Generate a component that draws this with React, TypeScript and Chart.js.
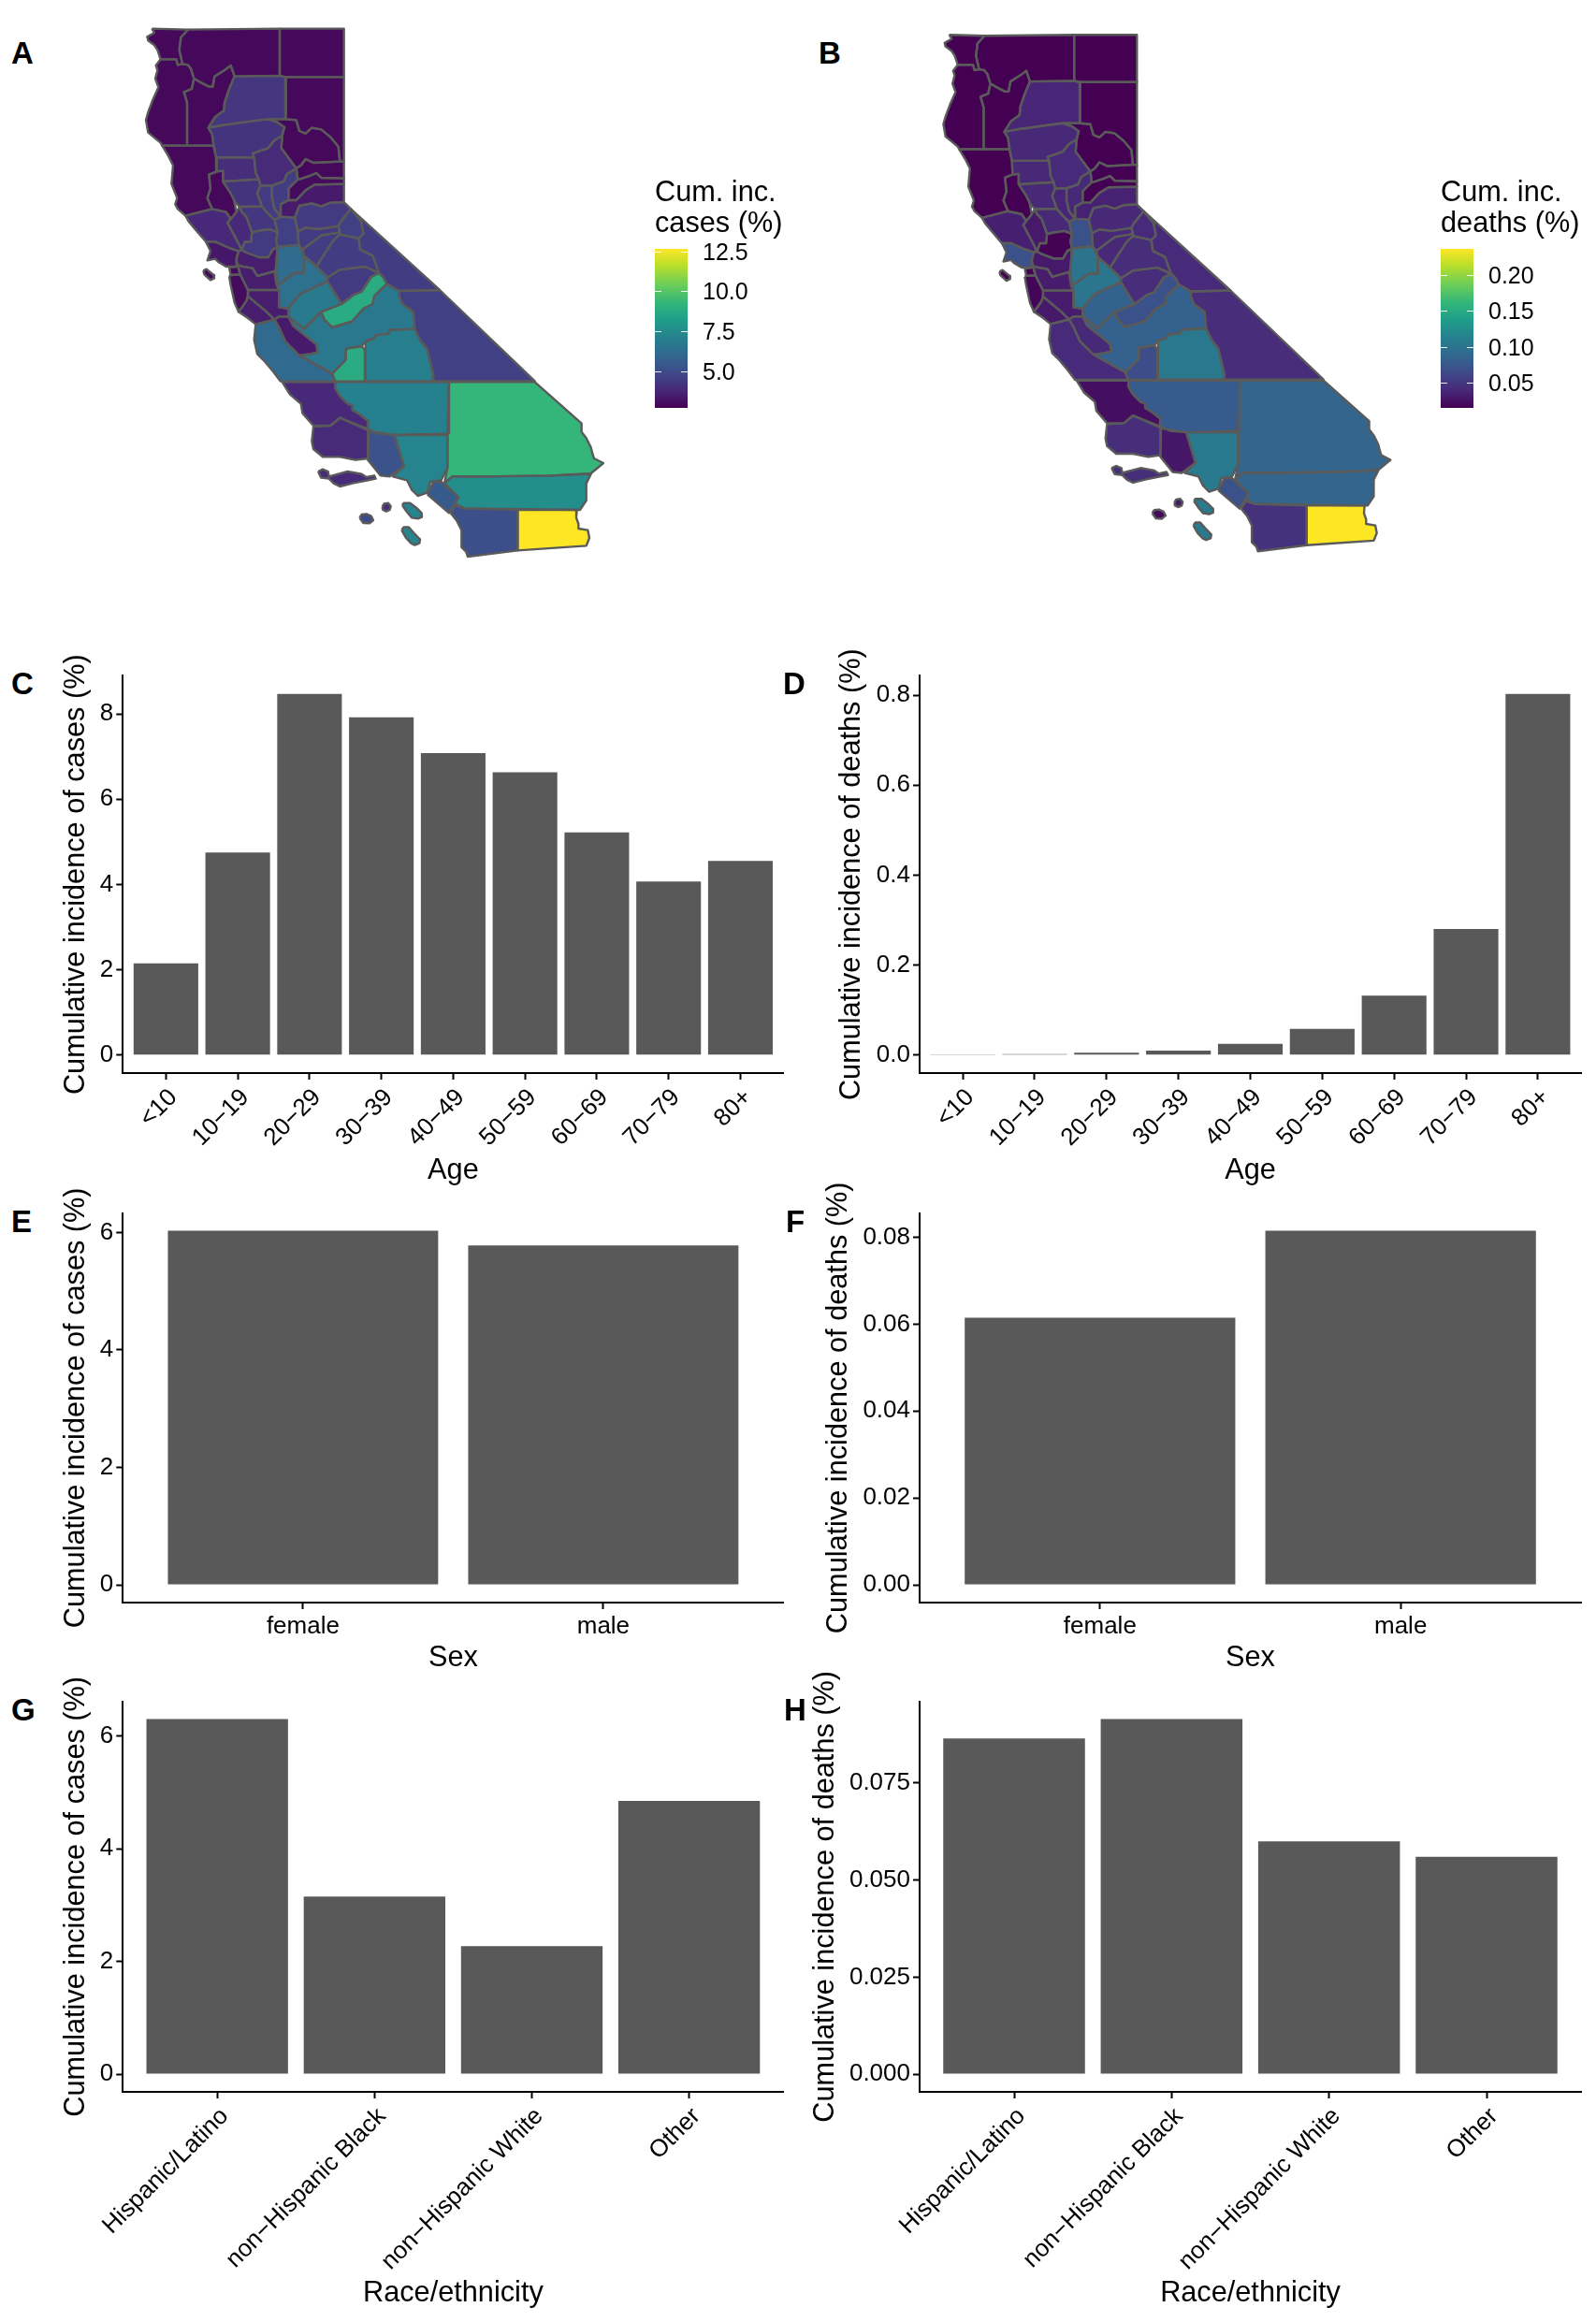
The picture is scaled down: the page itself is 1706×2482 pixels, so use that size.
import React, { useEffect, useRef } from "react";
import { Chart, registerables } from "chart.js";

Chart.register(...registerables);

const FONT = '"Liberation Sans", Arial, Helvetica, sans-serif';

// ---- Bar data -------------------------------------------------------------
const ageLabels = ["<10", "10−19", "20−29", "30−39", "40−49", "50−59", "60−69", "70−79", "80+"];
const sexLabels = ["female", "male"];
const raceLabels = ["Hispanic/Latino", "non−Hispanic Black", "non−Hispanic White", "Other"];

const casesByAge = [2.15, 4.75, 8.47, 7.92, 7.08, 6.63, 5.22, 4.07, 4.55];
const deathsByAge = [0.0005, 0.002, 0.005, 0.01, 0.025, 0.058, 0.132, 0.28, 0.803];
const casesBySex = [6.03, 5.78];
const deathsBySex = [0.0615, 0.0815];
const casesByRace = [6.3, 3.15, 2.27, 4.85];
const deathsByRace = [0.0865, 0.0915, 0.06, 0.056];

const ticksCasesAge = [0, 2, 4, 6, 8];
const ticksDeathsAge = [0, 0.2, 0.4, 0.6, 0.8];
const ticksCasesSex = [0, 2, 4, 6];
const ticksDeathsSex = [0, 0.02, 0.04, 0.06, 0.08];
const ticksCasesRace = [0, 2, 4, 6];
const ticksDeathsRace = [0, 0.025, 0.05, 0.075];

const legendTicksCases = [5, 7.5, 10, 12.5];
const legendTicksDeaths = [0.05, 0.1, 0.15, 0.2];
const legendRangeCases = [2.7, 12.66];
const legendRangeDeaths = [0.015, 0.2366];

// ---- Map data: county outlines in map units --------------------------------
const delNorte = [97,62,213,65,190,90,185,130,195,175,180,178,175,160,125,160,115,130,105,115,85,100,82,88,105,75];
const siskiyou = [213,65,507,62,507,213,362,215,350,180,330,195,298,215,292,248,280,248,255,235,232,222,222,190,212,178,195,175,185,130,190,90];
const modoc = [507,62,713,62,713,217,525,217,507,213];
const humboldt = [125,160,175,160,180,178,195,175,212,178,222,190,232,222,225,255,200,265,210,300,210,437,130,437,125,428,85,395,78,355,85,330,100,290,118,250,108,222,115,195,110,180];
const trinity = [232,222,255,235,280,248,292,248,298,215,330,195,350,180,362,215,345,255,330,300,328,325,300,345,278,380,290,400,295,437,210,437,210,300,200,265,225,255];
const shasta = [362,215,507,213,525,217,527,352,470,352,420,358,350,368,320,372,278,380,300,345,328,325,330,300,345,255];
const lassen = [525,217,713,217,713,488,700,488,695,440,670,410,640,385,610,380,590,398,570,390,560,355,527,352];
const tehama = [278,380,320,372,350,368,420,358,470,352,500,362,522,378,515,405,490,420,470,445,420,462,425,475,303,475,295,437,290,400];
const plumas = [527,352,560,355,570,390,590,398,610,380,640,385,670,410,695,440,700,488,615,492,590,480,575,500,560,510,512,445,515,405,522,378,500,362,470,352];
const mendocino = [130,437,295,437,303,475,305,520,280,530,285,575,275,605,290,640,205,662,180,640,172,625,178,605,160,560,165,500,150,470];
const glenn = [303,475,425,475,430,525,440,545,325,552,325,518,305,520];
const butte = [425,475,420,462,470,445,490,420,515,405,512,445,560,510,530,528,520,552,482,565,445,565,440,545,430,525];
const lake = [305,520,325,518,325,552,350,590,360,610,368,650,350,672,335,650,290,640,275,605,285,575,280,530];
const colusa = [325,552,440,545,445,565,435,590,450,632,378,633,365,620,350,590];
const sutter = [445,565,482,565,482,605,490,640,510,665,490,675,470,655,450,632,435,590];
const yuba = [482,565,520,552,530,528,560,510,565,545,535,575,535,612,510,625,510,665,490,640,482,605];
const sierra = [560,510,575,500,590,480,615,492,700,488,713,488,713,542,640,540,625,525,600,535,570,545,565,545];
const nevada = [565,545,570,545,600,535,625,525,640,540,713,542,713,560,620,562,590,580,560,612,535,612,535,575];
const placer = [535,612,560,612,590,580,620,562,713,560,713,618,670,620,640,632,610,622,570,630,555,668,510,665,510,625];
const elDorado = [555,668,570,630,610,622,640,632,670,620,713,618,735,640,703,680,695,695,630,705,590,700,565,712];
const sacramento = [490,675,510,665,555,668,565,712,568,755,500,762,495,740,500,715];
const yolo = [378,633,450,632,470,655,490,675,500,715,475,705,440,710,418,715,400,665,385,650];
const napa = [368,650,378,633,385,650,400,665,418,715,415,745,395,745,385,772,372,745,340,685,350,672];
const sonoma = [205,662,290,640,335,650,350,672,340,685,372,745,385,772,375,775,345,765,300,745,270,745,240,710,215,680];
const marin = [270,745,300,745,345,765,375,775,368,800,368,825,335,825,310,810,300,800,275,805,285,775];
const solano = [418,715,440,710,475,705,500,715,495,740,500,762,485,770,470,795,440,795,400,780,385,772,395,745,415,745];
const contraCosta = [368,800,375,775,385,772,400,780,440,795,470,795,485,770,500,762,495,830,490,840,435,855,420,830,390,825,372,820];
const alameda = [372,820,390,825,420,830,435,855,490,840,497,885,505,900,405,900,395,880,380,850];
const sanFrancisco = [345,828,368,825,372,820,380,850,350,852];
const sanMateo = [345,855,350,852,380,850,395,880,405,900,405,920,400,935,390,950,375,970,362,940,350,885];
const santaClara = [405,900,505,900,505,955,535,960,535,985,505,985,490,995,465,970,405,920];
const santaCruz = [390,950,400,935,405,920,465,970,490,995,430,1010,405,990,375,970];
const sanBenito = [490,995,505,985,535,985,550,1015,625,1075,628,1100,605,1105,570,1110,525,1065,505,1020];
const monterey = [430,1010,490,995,505,1020,525,1065,570,1110,675,1168,685,1193,510,1193,485,1160,460,1130,435,1105,425,1060];
const sanJoaquin = [500,762,568,755,585,790,585,845,555,845,500,885,495,830];
const stanislaus = [500,885,555,845,585,845,585,790,625,825,660,860,660,872,575,912,545,945,535,960,505,955,505,900];
const merced = [535,960,545,945,575,912,660,872,705,945,640,970,585,1025,535,985];
const fresno = [535,985,585,1025,640,970,650,995,675,1020,740,1000,775,960,805,945,810,920,850,880,890,903,890,920,900,945,935,970,940,1025,860,1028,855,1040,815,1045,810,1055,782,1065,770,1080,720,1088,718,1125,675,1168,570,1110,605,1105,628,1100,625,1075,550,1015];
const madera = [640,970,705,945,745,915,770,905,800,858,825,845,840,860,850,880,810,920,805,945,775,960,740,1000,675,1020,650,995];
const mariposa = [660,872,660,860,700,835,740,830,780,825,825,845,800,858,770,905,745,915,705,945];
const tuolumne = [625,825,650,785,680,740,700,722,730,728,760,735,765,770,805,790,825,845,780,825,740,830,700,835,660,860];
const calaveras = [580,770,620,740,640,725,700,715,700,722,680,740,650,785,625,825,585,790];
const amador = [565,712,590,700,630,705,695,695,700,715,640,725,620,740,580,770,568,755];
const alpine = [703,680,735,640,768,680,775,720,760,735,730,728,700,722,700,715,695,695];
const mono = [735,640,1020,900,890,903,850,880,840,860,825,845,805,790,765,770,760,735,775,720,768,680];
const inyo = [890,903,1020,900,1325,1192,1000,1192,1000,1175,980,1090,960,1065,940,1025,935,970,900,945,890,920];
const tulare = [782,1065,810,1055,815,1045,855,1040,860,1028,940,1025,960,1065,980,1090,1000,1175,995,1192,780,1192,782,1095];
const kings = [720,1088,770,1080,782,1095,780,1192,685,1193,675,1168,718,1125];
const sanLuisObispo = [515,1195,685,1195,685,1215,700,1240,725,1265,740,1270,740,1285,765,1300,790,1320,788,1345,700,1310,670,1335,615,1335,580,1295,575,1265,540,1235];
const kern = [685,1195,1050,1195,1050,1360,880,1365,820,1360,790,1345,790,1320,765,1300,740,1285,740,1270,725,1265,700,1240,685,1215];
const sanBernardino = [1050,1195,1325,1195,1475,1328,1475,1355,1490,1375,1505,1405,1510,1425,1515,1440,1545,1455,1505,1488,1375,1495,1150,1498,1060,1498,1035,1520,1045,1470,1045,1360];
const santaBarbara = [615,1338,670,1335,700,1310,790,1350,790,1440,750,1445,700,1435,645,1435,615,1410,610,1385];
const ventura = [792,1352,875,1365,905,1465,860,1498,830,1495,790,1445];
const losAngeles = [875,1365,1045,1365,1045,1470,1025,1510,990,1515,980,1550,950,1560,930,1540,915,1510,870,1498,905,1465];
const orange = [980,1555,1000,1515,1025,1515,1080,1565,1065,1590,1050,1615];
const riverside = [1035,1520,1060,1498,1150,1498,1375,1495,1505,1490,1490,1520,1490,1575,1470,1605,1100,1600,1070,1585,1080,1565];
const sanDiego = [1055,1615,1070,1590,1100,1600,1270,1605,1270,1735,1110,1755,1105,1740,1090,1725,1090,1670,1075,1640];
const imperial = [1270,1605,1460,1605,1458,1630,1465,1650,1465,1665,1495,1670,1500,1695,1490,1720,1270,1735];
const channelIslands = [630,1482,645,1475,662,1482,665,1498,725,1482,770,1490,785,1500,810,1495,815,1505,790,1510,740,1520,700,1530,680,1520,665,1505,640,1502];
const catalina = [900,1590,905,1583,925,1583,945,1598,962,1615,963,1628,950,1633,930,1630,915,1612];
const sanClemente = [898,1670,905,1660,920,1660,938,1680,957,1700,955,1712,940,1718,928,1712,912,1695];
const sanNicolas = [763,1630,770,1620,785,1618,800,1625,807,1638,795,1648,775,1647];
const sbIsland = [836,1595,842,1585,855,1583,863,1593,860,1605,848,1610,838,1605];
const farallon = [262,838,272,833,295,852,297,862,285,868,265,850];

const countyShapes = [delNorte, siskiyou, modoc, humboldt, trinity, shasta, lassen, tehama, plumas, mendocino, glenn, butte, lake, colusa, sutter, yuba, sierra, nevada, placer, elDorado, sacramento, yolo, napa, sonoma, marin, solano, contraCosta, alameda, sanFrancisco, sanMateo, santaClara, santaCruz, sanBenito, monterey, sanJoaquin, stanislaus, merced, fresno, madera, mariposa, tuolumne, calaveras, amador, alpine, mono, inyo, tulare, kings, sanLuisObispo, kern, sanBernardino, santaBarbara, ventura, losAngeles, orange, riverside, sanDiego, imperial, channelIslands, catalina, sanClemente, sanNicolas, sbIsland, farallon];

const countyCases = [2.9, 2.9, 2.9, 2.9, 2.9, 4.25, 2.9, 4.2, 2.9, 2.9, 4.0, 3.9, 2.9, 4.2, 4.4, 4.5, 2.9, 3.0, 3.4, 4.4, 4.6, 4.3, 3.8, 3.8, 3.3, 4.4, 3.5, 3.5, 2.9, 3.0, 3.5, 3.5, 3.4, 6.1, 6.2, 6.4, 6.8, 6.7, 8.8, 4.4, 4.5, 4.5, 4.4, 4.6, 4.5, 4.6, 7.0, 8.8, 3.8, 7.1, 9.3, 3.9, 5.2, 7.2, 5.5, 7.6, 5.1, 12.66, 3.9, 7.2, 7.2, 5.0, 4.0, 2.9];
const countyDeaths = [0.015, 0.015, 0.015, 0.015, 0.015, 0.038, 0.015, 0.04, 0.015, 0.015, 0.04, 0.042, 0.015, 0.04, 0.038, 0.04, 0.015, 0.015, 0.036, 0.04, 0.07, 0.04, 0.03, 0.034, 0.07, 0.016, 0.03, 0.032, 0.015, 0.018, 0.032, 0.03, 0.04, 0.042, 0.1, 0.102, 0.085, 0.083, 0.07, 0.043, 0.044, 0.04, 0.04, 0.042, 0.042, 0.043, 0.104, 0.067, 0.024, 0.078, 0.086, 0.044, 0.028, 0.106, 0.07, 0.086, 0.046, 0.2366, 0.044, 0.106, 0.106, 0.02, 0.03, 0.015];

const viridisStops = ["#440154", "#482878", "#3e4a89", "#31688e", "#26828e", "#1f9e89", "#35b779", "#6ece58", "#b5de2b", "#fde725"];

function hexRgb(h: string) {
  return [1, 3, 5].map((i) => parseInt(h.slice(i, i + 2), 16));
}
function viridis(t: number) {
  const c = Math.max(0, Math.min(1, t)) * (viridisStops.length - 1);
  const i = Math.min(viridisStops.length - 2, Math.floor(c));
  const a = hexRgb(viridisStops[i]);
  const b = hexRgb(viridisStops[i + 1]);
  const f = c - i;
  const m = a.map((v, k) => Math.round(v + (b[k] - v) * f));
  return `rgb(${m[0]},${m[1]},${m[2]})`;
}

// ---- Components -----------------------------------------------------------
function useChart(build: (c: HTMLCanvasElement) => Chart) {
  const ref = useRef<HTMLCanvasElement | null>(null);
  useEffect(() => {
    const chart = build(ref.current as HTMLCanvasElement);
    return () => chart.destroy();
  }, []);
  return ref;
}

const absCanvas = (left: number, top: number): React.CSSProperties => ({ position: "absolute", left, top, display: "block" });

function shapePoints(s: number[]) {
  const pts: { x: number; y: number }[] = [];
  for (let k = 0; k < s.length; k += 2) pts.push({ x: s[k], y: s[k + 1] });
  pts.push({ x: s[0], y: s[1] });
  return pts;
}

function MapPanel({ left, top, width, height, values, range }: any) {
  const ref = useChart((c) => {
    // Chart.js paints the first dataset last, so outlines come first and sit on top of every fill.
    const outlines = countyShapes.map((s) => ({
      data: shapePoints(s),
      showLine: true,
      fill: false,
      tension: 0,
      pointRadius: 0,
      borderWidth: 2.4,
      borderColor: "#5a5a5a",
      borderJoinStyle: "round",
    }));
    const fills = countyShapes.map((s, i) => ({
      data: shapePoints(s),
      showLine: true,
      fill: "shape",
      tension: 0,
      pointRadius: 0,
      borderWidth: 0,
      backgroundColor: viridis((values[i] - range[0]) / (range[1] - range[0])),
    }));
    return new Chart(c, {
      type: "scatter",
      data: { datasets: [...outlines, ...fills] } as any,
      options: {
        animation: false,
        responsive: false,
        events: [],
        layout: { padding: 0 },
        plugins: { legend: { display: false }, tooltip: { enabled: false } },
        scales: {
          x: { type: "linear", display: false, min: 0, max: 1590 },
          y: { type: "linear", display: false, min: 0, max: 1800, reverse: true },
        },
      },
    });
  });
  return <canvas ref={ref} width={width} height={height} style={absCanvas(left, top)} />;
}

function LegendPanel({ left, title, ticks, range, digits }: any) {
  const top = 190;
  const width = 180;
  const height = 246;
  const ref = useChart((c) =>
    new Chart(c, {
      type: "bar",
      data: {
        labels: [""],
        datasets: [
          {
            data: [range],
            barPercentage: 1,
            categoryPercentage: 1,
            backgroundColor: (ctx: any) => {
              const area = ctx.chart.chartArea;
              if (!area) return "#000";
              const g = ctx.chart.ctx.createLinearGradient(0, area.bottom, 0, area.top);
              viridisStops.forEach((s, i) => g.addColorStop(i / (viridisStops.length - 1), s));
              return g;
            },
          },
        ],
      } as any,
      options: {
        animation: false,
        responsive: false,
        events: [],
        layout: { padding: 0 },
        plugins: {
          legend: { display: false },
          tooltip: { enabled: false },
          title: {
            display: true,
            text: title,
            align: "start",
            color: "#000",
            font: { family: FONT, size: 30.7, weight: "normal", lineHeight: 1.075 },
            padding: { top: 0, bottom: 10 },
          },
        },
        scales: {
          x: { display: false, grid: { display: false } },
          y: {
            position: "right",
            min: range[0],
            max: range[1],
            grid: { display: false },
            border: { display: false },
            afterBuildTicks: (s: any) => {
              s.ticks = ticks.map((value: number) => ({ value }));
            },
            afterFit: (s: any) => {
              s.width = width - 35;
              s.paddingTop = 0;
              s.paddingBottom = 0;
            },
            ticks: {
              color: "#000",
              padding: 8,
              labelOffset: 2,
              font: { family: FONT, size: 25 },
              callback: (v: any) => Number(v).toFixed(digits),
            },
          },
        },
      },
      plugins: [
        {
          id: "legendTickMarks",
          afterDatasetsDraw(chart: any) {
            const { ctx, chartArea, scales } = chart;
            ctx.save();
            ctx.strokeStyle = "rgba(255,255,255,0.9)";
            ctx.lineWidth = 1;
            ticks.forEach((t: number) => {
              const y = Math.round(scales.y.getPixelForValue(t)) + 0.5;
              ctx.beginPath();
              ctx.moveTo(chartArea.left, y);
              ctx.lineTo(chartArea.left + 7, y);
              ctx.moveTo(chartArea.right - 7, y);
              ctx.lineTo(chartArea.right, y);
              ctx.stroke();
            });
            ctx.restore();
          },
        },
      ],
    } as any)
  );
  return <canvas ref={ref} width={width} height={height} style={absCanvas(left, top)} />;
}

function BarPanel({ labels, values, yTicks, digits, xTitle, yTitle, titleX, axisX, right, plotTop, axisY, bottom, rotate, tickPad }: any) {
  const lh = 36;
  const left = Math.round(titleX - lh / 2);
  const top = Math.floor(plotTop) - 40;
  const width = Math.ceil(right - left) + 4;
  const height = bottom - top;
  const maxV = Math.max(...values);
  const ref = useChart((c) =>
    new Chart(c, {
      type: "bar",
      data: {
        datasets: [
          {
            data: values.map((y: number, x: number) => ({ x, y })),
            backgroundColor: "#595959",
            barPercentage: 0.9,
            categoryPercentage: 1,
          },
        ],
      } as any,
      options: {
        animation: false,
        responsive: false,
        events: [],
        layout: { padding: { top: plotTop - top, right: width - (right - left), left: 0, bottom: 0 } },
        plugins: { legend: { display: false }, tooltip: { enabled: false } },
        scales: {
          x: {
            type: "linear",
            min: -0.6,
            max: labels.length - 0.4,
            offset: false,
            grid: { offset: false, drawOnChartArea: false, drawTicks: true, tickLength: 7, tickWidth: 2, tickColor: "#000" },
            border: { display: true, color: "#000", width: 2 },
            afterBuildTicks: (s: any) => {
              s.ticks = labels.map((_: string, value: number) => ({ value }));
            },
            afterFit: (s: any) => {
              s.height = bottom - axisY;
              s.paddingLeft = 0;
              s.paddingRight = 0;
            },
            ticks: {
              autoSkip: false,
              color: "#000",
              padding: tickPad,
              labelOffset: rotate ? 8 : 0,
              minRotation: rotate,
              maxRotation: rotate,
              font: { family: FONT, size: 26 },
              callback: (v: any) => labels[v],
            },
            title: {
              display: true,
              text: xTitle,
              color: "#000",
              padding: 0,
              font: { family: FONT, size: 30.7, lineHeight: lh / 30.7 },
            },
          },
          y: {
            type: "linear",
            min: -maxV * 0.05,
            max: maxV * 1.05,
            grid: { drawOnChartArea: false, drawTicks: true, tickLength: 7, tickWidth: 2, tickColor: "#000" },
            border: { display: true, color: "#000", width: 2 },
            afterBuildTicks: (s: any) => {
              s.ticks = yTicks.map((value: number) => ({ value }));
            },
            afterFit: (s: any) => {
              s.width = axisX - left;
              s.paddingTop = 0;
              s.paddingBottom = 0;
            },
            ticks: {
              color: "#000",
              padding: 3,
              font: { family: FONT, size: 26 },
              callback: (v: any) => Number(v).toFixed(digits),
            },
            title: {
              display: true,
              text: yTitle,
              color: "#000",
              padding: 0,
              font: { family: FONT, size: 30.7, lineHeight: lh / 30.7 },
            },
          },
        },
      },
    } as any)
  );
  return <canvas ref={ref} width={width} height={height} style={absCanvas(left, top)} />;
}

const panelLetters: [string, number, number][] = [
  ["A", 12, 57], ["B", 875, 57], ["C", 12, 731], ["D", 837, 731],
  ["E", 12, 1306], ["F", 840, 1306], ["G", 12, 1828], ["H", 838, 1828],
];

const casesTitle = "Cumulative incidence of cases (%)";
const deathsTitle = "Cumulative incidence of deaths (%)";

export default function App() {
  return (
    <div style={{ position: "absolute", left: 0, top: 0, width: 1706, height: 2482, background: "#fff", overflow: "hidden" }}>
      <MapPanel left={130} top={10} width={530} height={600} values={countyCases} range={legendRangeCases} />
      <MapPanel left={983} top={17} width={518} height={587} values={countyDeaths} range={legendRangeDeaths} />
      <LegendPanel left={700} title={["Cum. inc.", "cases (%)"]} ticks={legendTicksCases} range={legendRangeCases} digits={1} />
      <LegendPanel left={1540} title={["Cum. inc.", "deaths (%)"]} ticks={legendTicksDeaths} range={legendRangeDeaths} digits={2} />

      <BarPanel labels={ageLabels} values={casesByAge} yTicks={ticksCasesAge} digits={0} xTitle="Age" yTitle={casesTitle} titleX={82} axisX={131.3} right={837.5} plotTop={722.4} axisY={1147} bottom={1270} rotate={45} tickPad={4} />
      <BarPanel labels={ageLabels} values={deathsByAge} yTicks={ticksDeathsAge} digits={1} xTitle="Age" yTitle={deathsTitle} titleX={911} axisX={983} right={1690} plotTop={722.4} axisY={1147} bottom={1270} rotate={45} tickPad={4} />
      <BarPanel labels={sexLabels} values={casesBySex} yTicks={ticksCasesSex} digits={0} xTitle="Sex" yTitle={casesTitle} titleX={82} axisX={131.3} right={837.5} plotTop={1296.6} axisY={1713} bottom={1791} rotate={0} tickPad={3} />
      <BarPanel labels={sexLabels} values={deathsBySex} yTicks={ticksDeathsSex} digits={2} xTitle="Sex" yTitle={deathsTitle} titleX={897} axisX={983} right={1690} plotTop={1296.6} axisY={1713} bottom={1791} rotate={0} tickPad={3} />
      <BarPanel labels={raceLabels} values={casesByRace} yTicks={ticksCasesRace} digits={0} xTitle="Race/ethnicity" yTitle={casesTitle} titleX={82} axisX={131.3} right={837.5} plotTop={1818.6} axisY={2236} bottom={2470} rotate={45} tickPad={4} />
      <BarPanel labels={raceLabels} values={deathsByRace} yTicks={ticksDeathsRace} digits={3} xTitle="Race/ethnicity" yTitle={deathsTitle} titleX={883} axisX={983} right={1690} plotTop={1818.6} axisY={2236} bottom={2470} rotate={45} tickPad={4} />

      {panelLetters.map(([t, x, y]) => (
        <div key={t} style={{ position: "absolute", left: x, top: y - 19, font: `bold 33px/38px ${FONT}`, color: "#000" }}>{t}</div>
      ))}
    </div>
  );
}
